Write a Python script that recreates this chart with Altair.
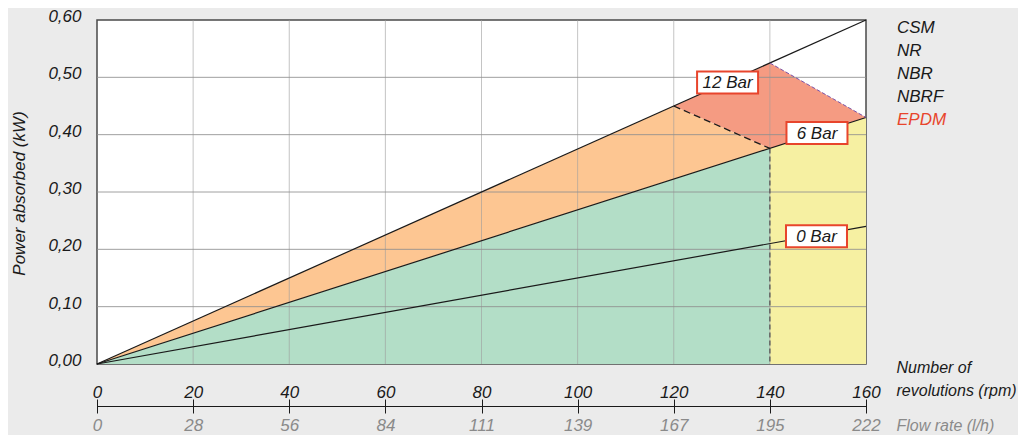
import altair as alt
import pandas as pd

FONT = "Liberation Sans"
INK = "#1a1a1a"

# ---------------- data ----------------
rpm_ticks = [0, 20, 40, 60, 80, 100, 120, 140, 160]
flow_labels = ["0", "28", "56", "84", "111", "139", "167", "195", "222"]
power_ticks = [0.0, 0.1, 0.2, 0.3, 0.4, 0.5, 0.6]
grid_rpm = [20, 40, 60, 80, 100, 120, 140]
grid_kw = [0.1, 0.2, 0.3, 0.4, 0.5]

# pressure curves (rpm -> kW)
line_rpm = [0, 160]
bar12_kw = [0.0, 0.60]
bar6_kw = [0.0, 0.43]
bar0_kw = [0.0, 0.24]

# coloured zones
green_rpm = [0, 140]
green_top = [0.0, 0.376]
yellow_rpm = [140, 160]
yellow_top = [0.376, 0.43]
orange_rpm = [0, 120, 140]
orange_top = [0.0, 0.45, 0.376]
orange_bot = [0.0, 0.3225, 0.376]
red_rpm = [120, 140, 160]
red_top = [0.45, 0.525, 0.43]
red_bot = [0.45, 0.376, 0.43]

# dashed limits
dash_rpm = [120, 140]
dash_kw = [0.45, 0.376]
purple_rpm = [140, 160]
purple_kw = [0.525, 0.43]
limit_rpm = [140]
limit_kw = [0.376]

# pressure labels
labels = ["12 Bar", "6 Bar", "0 Bar"]
label_rpm = [131.2, 149.8, 149.7]
label_kw = [0.491, 0.403, 0.223]

materials = ["CSM", "NR", "NBR", "NBRF", "EPDM"]
material_colors = [INK, INK, INK, INK, "#e8452c"]

# ---------------- scales / axes ----------------
xs = alt.Scale(domain=[0, 160], nice=False, zero=True)
ys = alt.Scale(domain=[0, 0.6], nice=False, zero=True)

yaxis = alt.Axis(
    values=power_ticks,
    labelExpr="replace(format(datum.value, '.2f'), '.', ',')",
    labelFont=FONT, labelFontSize=17, labelFontStyle="italic", labelColor=INK,
    labelBaseline="alphabetic", labelPadding=16, labelOffset=1.5,
    ticks=False, domain=False, grid=False,
    title="Power absorbed (kW)", titleFont=FONT, titleFontSize=17,
    titleFontStyle="italic", titleFontWeight="normal", titleColor=INK,
    titleX=-78, titleY=173, titleAngle=270, titleBaseline="middle", titleAlign="center",
)


def X(field, axis=None):
    return alt.X(field, type="quantitative", scale=xs, axis=axis)


def Y(field):
    return alt.Y(field, type="quantitative", scale=ys, axis=yaxis)


def Y2(field):
    return alt.Y2(field)


layers = []

# zones
def area(xv, top, bot, color):
    df = pd.DataFrame({"rpm": xv, "top": top, "bot": bot})
    return alt.Chart(df).mark_area(color=color, opacity=1, interpolate="linear").encode(
        x=X("rpm"), y=Y("top"), y2=Y2("bot")
    )

layers.append(area(green_rpm, green_top, [0.0] * len(green_rpm), "#b3dec7"))
layers.append(area(yellow_rpm, yellow_top, [0.0] * len(yellow_rpm), "#f6f0a2"))
layers.append(area(orange_rpm, orange_top, orange_bot, "#fdc692"))
layers.append(area(red_rpm, red_top, red_bot, "#f59b82"))

# grid
layers.append(
    alt.Chart(pd.DataFrame({"rpm": grid_rpm})).mark_rule(color="#9c9c9c", strokeWidth=1, opacity=0.6)
    .encode(x=X("rpm"))
)
layers.append(
    alt.Chart(pd.DataFrame({"kw": grid_kw})).mark_rule(color="#8f8f8f", strokeWidth=1, opacity=0.85)
    .encode(y=Y("kw"))
)

# dashed limit at 140 rpm
layers.append(
    alt.Chart(pd.DataFrame({"rpm": limit_rpm, "kw": limit_kw, "z": [0.0]}))
    .mark_rule(color="#555555", strokeWidth=1.3, strokeDash=[5, 3])
    .encode(x=X("rpm"), y=Y("kw"), y2=Y2("z"))
)

# pressure lines
def line(xv, yv, color=INK, dash=None, width=1.2):
    df = pd.DataFrame({"rpm": xv, "kw": yv})
    kw = dict(color=color, strokeWidth=width)
    if dash:
        kw["strokeDash"] = dash
    return alt.Chart(df).mark_line(**kw).encode(x=X("rpm"), y=Y("kw"))

layers.append(line(line_rpm, bar0_kw))
layers.append(line(line_rpm, bar6_kw))
layers.append(line(line_rpm, bar12_kw))
layers.append(line(dash_rpm, dash_kw, dash=[7, 4], width=1.3))
layers.append(line(purple_rpm, purple_kw, color="#7b52a8", dash=[4, 2], width=1))

# label boxes
lab_df = pd.DataFrame({"rpm": label_rpm, "kw": label_kw, "t": labels})
layers.append(
    alt.Chart(lab_df).mark_rect(width=61, height=22, fill="white", stroke="#e8452c", strokeWidth=2)
    .encode(x=X("rpm"), y=Y("kw"))
)
layers.append(
    alt.Chart(lab_df).mark_text(font=FONT, fontSize=17, fontStyle="italic", color=INK,
                                align="center", baseline="middle", dy=1)
    .encode(x=X("rpm"), y=Y("kw"), text="t:N")
)

# material list at the right
for i, (m, c) in enumerate(zip(materials, material_colors)):
    layers.append(
        alt.Chart(pd.DataFrame({"t": [m]})).mark_text(
            font=FONT, fontSize=17, fontStyle="italic", color=c, align="left", baseline="middle"
        ).encode(x=alt.value(800), y=alt.value(8 + 23 * i), text="t:N")
    )

# bottom axis: rpm with ticks, labels above the line
rpm_axis = alt.Axis(
    orient="bottom", offset=35, values=rpm_ticks, format="d",
    domain=False, ticks=True, tickSize=14, tickColor=INK, tickWidth=1, grid=False,
    labelFont=FONT, labelFontSize=17, labelFontStyle="italic", labelColor=INK,
    labelBaseline="alphabetic", labelPadding=-16, labelFlush=False, labelOverlap=False,
    title=["Number of", "revolutions (rpm)"], titleFont=FONT, titleFontSize=16,
    titleFontStyle="italic", titleFontWeight="normal", titleColor=INK,
    titleX=799, titleY=-27, titleAlign="left", titleAnchor="start",
    titleBaseline="alphabetic", titleLineHeight=23,
)
layers.append(
    alt.Chart(pd.DataFrame({"rpm": rpm_ticks})).mark_point(opacity=0, size=1)
    .encode(x=X("rpm", rpm_axis), y=alt.value(0))
)

# bottom axis: flow rate line and labels
flow_expr = "[" + ",".join("'" + s + "'" for s in flow_labels) + "][round(datum.value / 20)]"
flow_axis = alt.Axis(
    orient="bottom", offset=42, values=rpm_ticks, labelExpr=flow_expr,
    domain=True, domainColor=INK, domainWidth=1, ticks=False, tickSize=0, grid=False,
    labelFont=FONT, labelFontSize=17, labelFontStyle="italic", labelColor="#8a8a8a",
    labelBaseline="top", labelPadding=11, labelFlush=False, labelOverlap=False,
    title="Flow rate (l/h)", titleFont=FONT, titleFontSize=16,
    titleFontStyle="italic", titleFontWeight="normal", titleColor="#8a8a8a",
    titleX=799, titleY=24, titleAlign="left", titleAnchor="start",
    titleBaseline="alphabetic",
)
layers.append(
    alt.Chart(pd.DataFrame({"rpm": rpm_ticks})).mark_point(opacity=0, size=1)
    .encode(x=X("rpm", flow_axis), y=alt.value(0))
)

chart = (
    alt.layer(*layers)
    .resolve_axis(x="independent")
    .properties(
        width=769, height=344,
        padding={"left": 89, "top": 12, "right": 152, "bottom": 71},
        autosize=alt.AutoSizeParams(type="none"),
        background="#ebebeb",
    )
    .configure_view(fill="white", stroke="#4a4a4a", strokeWidth=1.5)
)

chart.save("out.html", embed_options={"renderer": "svg", "actions": False})
